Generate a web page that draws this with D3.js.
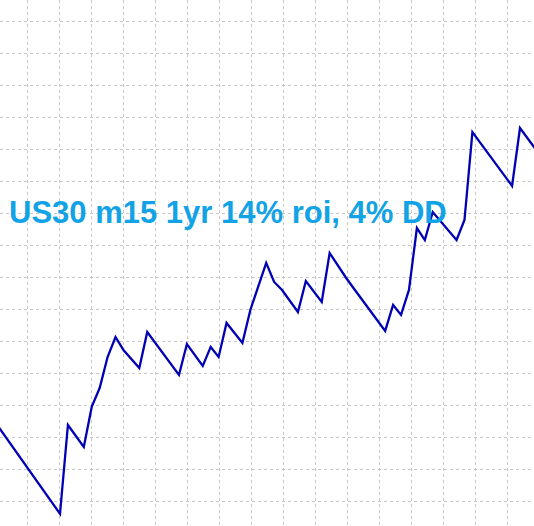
<!DOCTYPE html>
<html>
<head>
<meta charset="utf-8">
<script src="https://cdn.jsdelivr.net/npm/d3@7"></script>
<style>
  body { margin: 0; background: #fff; }
  svg { display: block; }
</style>
</head>
<body>
<div id="chart"></div>
<script>
// trade number and account balance at each turning point of the equity curve
var trades  = [-8, 0, 1, 3, 4, 5, 6, 7, 8, 10, 11, 15, 16, 18, 19, 20, 21, 23, 24, 26, 27, 28, 30, 31, 33, 34, 36, 37, 41, 42, 43, 44, 45, 46, 47, 50, 51, 52, 57, 58, 60];
var balance = [10080, 9520, 10075, 9938, 10188, 10306, 10500, 10625, 10544, 10431, 10656, 10388, 10581, 10444, 10563, 10500, 10713, 10588, 10794, 11088, 10969, 10919, 10781, 10975, 10844, 11150, 11000, 10931, 10663, 10825, 10763, 10919, 11306, 11231, 11406, 11231, 11356, 11906, 11569, 11931, 11797];
var title = "US30 m15 1yr 14% roi, 4% DD";

var width = 534, height = 526;

var data = trades.map(function(t, i) { return {trade: t, bal: balance[i]}; });

var svg = d3.select("#chart")
  .append("svg")
    .attr("width", width)
    .attr("height", height);

var x = d3.scaleLinear()
  .domain([0, 58])
  .range([60, 520]);

var y = d3.scaleLinear()
  .domain([9600, 11600])
  .range([501, 181]);

// chart grid, fixed 32px cells
var gridX = d3.scaleLinear().domain([0, 1]).range([27, 59]);
var gridVals = d3.range(-1, 17);

svg.append("g")
  .selectAll("line")
  .data(gridVals.filter(function(k) { return gridX(k) >= 0 && gridX(k) < width; }))
  .enter()
  .append("line")
    .attr("x1", function(k) { return Math.round(gridX(k)) + 0.5; })
    .attr("x2", function(k) { return Math.round(gridX(k)) + 0.5; })
    .attr("y1", 0)
    .attr("y2", height)
    .attr("stroke", "#c8c8c8")
    .attr("stroke-dasharray", "3,3");

var yTicks = d3.range(9400, 12800, 200).filter(function(v) { return y(v) >= 0 && y(v) < height; });
svg.append("g")
  .selectAll("line")
  .data(yTicks)
  .enter()
  .append("line")
    .attr("x1", 0)
    .attr("x2", width)
    .attr("y1", function(v) { return Math.round(y(v)) + 0.5; })
    .attr("y2", function(v) { return Math.round(y(v)) + 0.5; })
    .attr("stroke", "#c8c8c8")
    .attr("stroke-dasharray", "3,3");

var line = d3.line()
  .x(function(d) { return x(d.trade); })
  .y(function(d) { return y(d.bal); });

svg.append("path")
  .datum(data)
  .attr("fill", "none")
  .attr("stroke", "#0000b4")
  .attr("stroke-width", 2.3)
  .attr("d", line);

svg.append("text")
  .attr("x", 9)
  .attr("y", 223)
  .attr("font-family", "'Liberation Sans', Arial, sans-serif")
  .attr("font-weight", "bold")
  .attr("font-size", "31px")
  .attr("fill", "#12a2e6")
  .text(title);
</script>
</body>
</html>
